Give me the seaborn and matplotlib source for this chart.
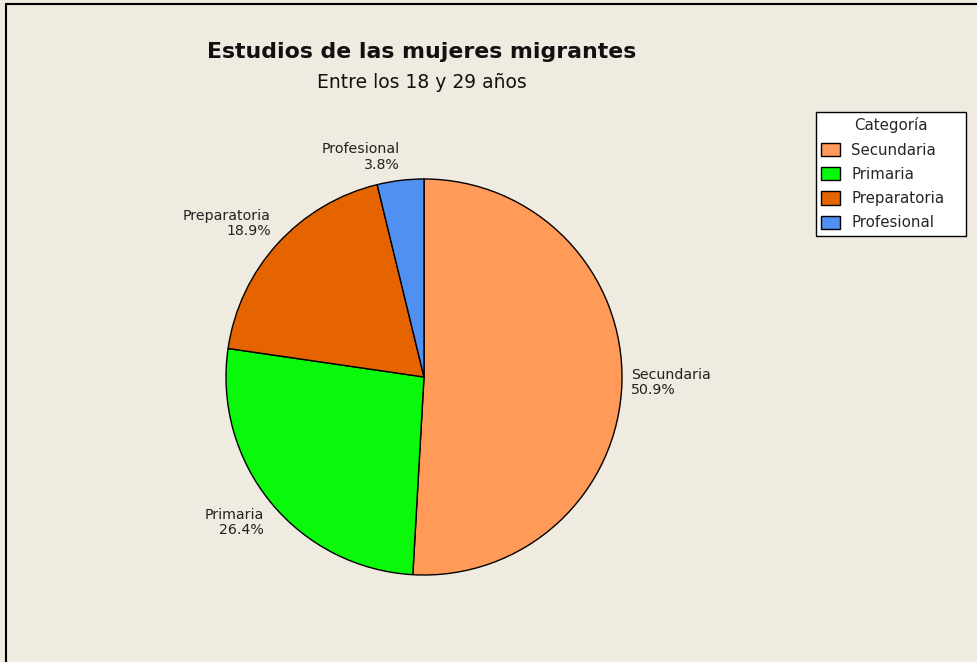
import numpy as np
import matplotlib.pyplot as plt
import seaborn as sns
from matplotlib.lines import Line2D
from matplotlib.patches import Patch

# data
categories = ["Secundaria", "Primaria", "Preparatoria", "Profesional"]
percentages = [50.9, 26.4, 18.9, 3.8]
colors = ["#FF9A58", "#0AF80A", "#E66400", "#4F90F2"]

BG = "#F0EBE1"

sns.set_style("white")
plt.rcParams["font.family"] = ["DejaVu Sans"]

fig = plt.figure(figsize=(9.77, 6.62), dpi=100, facecolor=BG)

W, H = 977, 662
cx, cy, r = 424, 377, 198
ax = fig.add_axes([(cx - r) / W, (H - cy - r) / H, 2 * r / W, 2 * r / H])
ax.set_facecolor(BG)

labels = [f"{c}\n{p:.1f}%" for c, p in zip(categories, percentages)]
wedges, texts = ax.pie(percentages, labels=labels, colors=colors,
                       startangle=90, counterclock=False,
                       labeldistance=1.045,
                       wedgeprops=dict(edgecolor="black", linewidth=1.0),
                       textprops=dict(fontsize=10.2, color="#222222", linespacing=1.1))
# upper labels sit above their anchor, lower labels below it
for w, t in zip(wedges, texts):
    s = np.sin(np.deg2rad((w.theta1 + w.theta2) / 2))
    t.set_va("bottom" if s > 0.5 else "top" if s < -0.5 else "center")

ax.set_xlim(-1, 1)
ax.set_ylim(-1, 1)
ax.set_aspect("equal")
ax.axis("off")

fig.text(422 / W, 1 - 52 / H, "Estudios de las mujeres migrantes",
         ha="center", va="center", fontsize=15.8, fontweight="bold", color="#111111")
fig.text(422 / W, 1 - 83 / H, "Entre los 18 y 29 años",
         ha="center", va="center", fontsize=13.5, color="#111111")

handles = [Patch(facecolor=c, edgecolor="black", linewidth=1.0) for c in colors]
leg = fig.legend(handles, categories, title="Categoría",
                 loc="upper left", bbox_to_anchor=(816 / W, 1 - 240 / H, 150 / W, 128 / H),
                 mode="expand",
                 fontsize=10.8, title_fontsize=10.8, frameon=True, fancybox=False,
                 borderpad=0.35, labelspacing=0.62, handlelength=1.25, handleheight=1.0,
                 handletextpad=0.75, borderaxespad=0)
leg.get_frame().set_edgecolor("black")
leg.get_frame().set_linewidth(1.0)
leg.get_frame().set_facecolor("white")
leg.get_frame().set_alpha(1)

# screenshot frame edges (left and top)
fig.add_artist(Line2D([6 / W, 6 / W], [0, 1 - 4 / H], color="black", linewidth=1.5))
fig.add_artist(Line2D([6 / W, 1], [1 - 4 / H, 1 - 4 / H], color="black", linewidth=1.5))

fig.savefig("out.png", dpi=100, facecolor=BG)
